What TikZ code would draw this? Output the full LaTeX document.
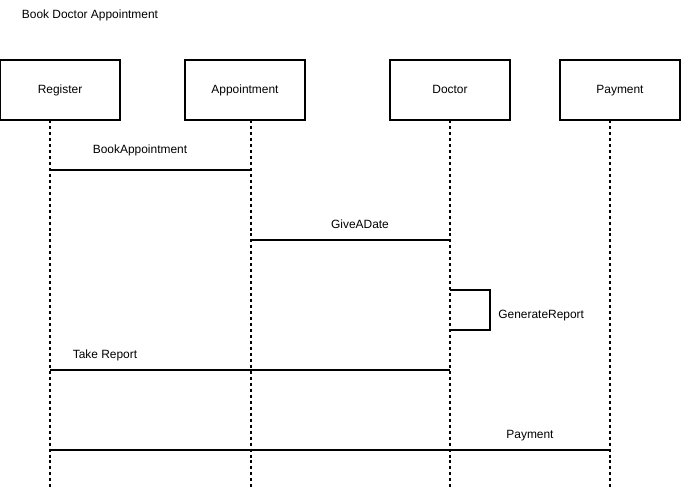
\documentclass[tikz,border=0pt]{standalone}
\usepackage{fontspec}
\setmainfont{Liberation Sans}
\tikzset{
  lifebox/.style={draw, line width=0.6pt, minimum width=2.4cm, minimum height=1.2cm, inner sep=0pt, text height=5pt, text depth=1.5pt},
  lifeline/.style={line width=0.6pt, dash pattern=on 1.7pt off 1.7pt},
  msg/.style={line width=0.6pt},
  msglabel/.style={inner sep=0pt, text height=5pt, text depth=1.5pt}
}
\begin{document}
\begin{tikzpicture}[x=0.02cm, y=-0.02cm, font=\fontsize{6.8}{8}\selectfont]
\useasboundingbox (0,0) rectangle (681,493);

% Title of the diagram
\node[msglabel] (title) at (90,15) {Book Doctor Appointment};

% The four participants
\node[lifebox] (register) at (60,90) {Register};
\node[lifebox] (appointment) at (245,90) {Appointment};
\node[lifebox] (doctor) at (450,90) {Doctor};
\node[lifebox] (payment) at (620,90) {Payment};

% Lifelines
\coordinate (regtop) at (50,120);
\coordinate (regend) at (50,490);
\coordinate (apptop) at (251,120);
\coordinate (append) at (251,490);
\coordinate (doctop) at (450,120);
\coordinate (docend) at (450,490);
\coordinate (paytop) at (610,120);
\coordinate (payend) at (610,490);
\draw[lifeline] (regtop) -- (regend);
\draw[lifeline] (apptop) -- (append);
\draw[lifeline] (doctop) -- (docend);
\draw[lifeline] (paytop) -- (payend);

% Messages
\coordinate (book1) at (50,170);
\coordinate (book2) at (251,170);
\draw[msg] (book1) -- (book2);
\node[msglabel] (booklabel) at (140,150) {BookAppointment};

\coordinate (date1) at (251,240);
\coordinate (date2) at (450,240);
\draw[msg] (date1) -- (date2);
\node[msglabel] (datelabel) at (360,225) {GiveADate};

\coordinate (gen1) at (450,290);
\coordinate (gen2) at (490,290);
\coordinate (gen3) at (490,330);
\coordinate (gen4) at (450,330);
\draw[msg] (gen1) -- (gen2) -- (gen3) -- (gen4);
\node[msglabel, anchor=west] (genlabel) at (498,315) {GenerateReport};

\coordinate (take1) at (50,370);
\coordinate (take2) at (450,370);
\draw[msg] (take1) -- (take2);
\node[msglabel] (takelabel) at (105,355) {Take Report};

\coordinate (pay1) at (50,450);
\coordinate (pay2) at (610,450);
\draw[msg] (pay1) -- (pay2);
\node[msglabel] (paylabel) at (530,435) {Payment};
\end{tikzpicture}
\end{document}
